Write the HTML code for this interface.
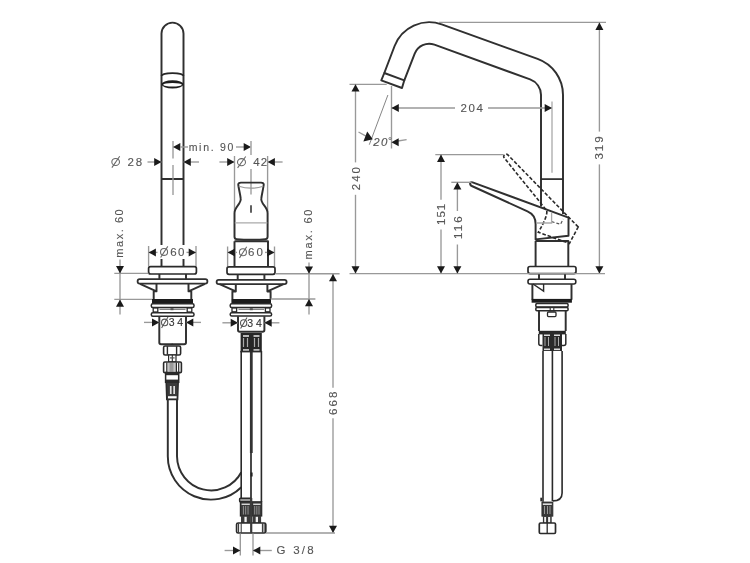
<!DOCTYPE html>
<html><head><meta charset="utf-8"><style>
html,body{margin:0;padding:0;background:#fff;}
svg{display:block;font-family:"Liberation Sans",sans-serif;will-change:transform;}
</style></head><body>
<svg width="750" height="563" viewBox="0 0 750 563">
<rect width="750" height="563" fill="#fff"/>
<path d="M161.5,266.5 V33.6 A11,11 0 0 1 183.5,33.6 V266.5" stroke="#303030" stroke-width="1.95" fill="none" stroke-linejoin="round"/>
<path d="M161.5,179 H183.5" stroke="#303030" stroke-width="1.95" fill="none" stroke-linejoin="round"/>
<path d="M161.5,76 A11,2.9 0 0 1 183.5,76" stroke="#262626" stroke-width="1.8" fill="none"/>
<ellipse cx="172.5" cy="84.3" rx="11" ry="4.1" fill="#1c1c1c"/>
<ellipse cx="172.5" cy="84.75" rx="9.3" ry="1.85" fill="#fff"/>
<line x1="173" y1="141" x2="173" y2="158.5" stroke="#999" stroke-width="1.35" fill="none"/>
<line x1="173" y1="165" x2="173" y2="195" stroke="#999" stroke-width="1.35" fill="none"/>
<line x1="147.5" y1="162" x2="161.5" y2="162" stroke="#999" stroke-width="1.35" fill="none"/>
<polygon points="161.5,162.0 154.2,158.0 154.2,166.0" fill="#1a1a1a"/>
<line x1="183.5" y1="162" x2="199" y2="162" stroke="#999" stroke-width="1.35" fill="none"/>
<polygon points="183.5,162.0 190.8,158.0 190.8,166.0" fill="#1a1a1a"/>
<ellipse cx="115.65" cy="161.95" rx="3.83" ry="3.52" stroke="#666" stroke-width="1.05" fill="none"/>
<line x1="119.70" y1="156.30" x2="111.90" y2="167.60" stroke="#666" stroke-width="1.05"/>
<text x="127.5" y="166" font-size="11.5" letter-spacing="1.95" text-anchor="start" fill="#555" stroke="#555" stroke-width="0.12" >28</text>
<polygon points="173.0,147.0 180.3,143.0 180.3,151.0" fill="#1a1a1a"/>
<line x1="180" y1="147" x2="188" y2="147" stroke="#999" stroke-width="1.35" fill="none"/>
<text x="188.65" y="150.8" font-size="10.5" letter-spacing="1.72" text-anchor="start" fill="#555" stroke="#555" stroke-width="0.12" >min. 90</text>
<line x1="236" y1="147" x2="244" y2="147" stroke="#999" stroke-width="1.35" fill="none"/>
<polygon points="251.0,147.0 243.7,143.0 243.7,151.0" fill="#1a1a1a"/>
<line x1="251" y1="141" x2="251" y2="155" stroke="#999" stroke-width="1.35" fill="none"/>
<line x1="251" y1="169" x2="251" y2="194.5" stroke="#999" stroke-width="1.35" fill="none"/>
<line x1="219.4" y1="162" x2="234.5" y2="162" stroke="#999" stroke-width="1.35" fill="none"/>
<polygon points="234.5,162.0 227.2,158.0 227.2,166.0" fill="#1a1a1a"/>
<line x1="267.6" y1="162" x2="282.6" y2="162" stroke="#999" stroke-width="1.35" fill="none"/>
<polygon points="267.6,162.0 274.9,158.0 274.9,166.0" fill="#1a1a1a"/>
<ellipse cx="241.50" cy="162.20" rx="3.98" ry="3.58" stroke="#666" stroke-width="1.05" fill="none"/>
<line x1="245.70" y1="156.50" x2="237.60" y2="167.90" stroke="#666" stroke-width="1.05"/>
<text x="253.2" y="166.3" font-size="11.5" letter-spacing="1.25" text-anchor="start" fill="#555" stroke="#555" stroke-width="0.12" >42</text>
<line x1="234.5" y1="156" x2="234.5" y2="212" stroke="#999" stroke-width="1.35" fill="none"/>
<line x1="267.6" y1="156" x2="267.6" y2="212" stroke="#999" stroke-width="1.35" fill="none"/>
<line x1="148.6" y1="246" x2="148.6" y2="266.5" stroke="#999" stroke-width="1.35" fill="none"/>
<line x1="196" y1="246" x2="196" y2="266.5" stroke="#999" stroke-width="1.35" fill="none"/>
<line x1="148.6" y1="252.4" x2="158" y2="252.4" stroke="#999" stroke-width="1.35" fill="none"/>
<line x1="186" y1="252.4" x2="196" y2="252.4" stroke="#999" stroke-width="1.35" fill="none"/>
<polygon points="148.6,252.4 155.9,248.4 155.9,256.4" fill="#1a1a1a"/>
<polygon points="196.0,252.4 188.7,248.4 188.7,256.4" fill="#1a1a1a"/>
<rect x="157.5" y="245" width="29" height="14" fill="#fff"/>
<ellipse cx="164.05" cy="251.95" rx="3.52" ry="3.43" stroke="#666" stroke-width="1.05" fill="none"/>
<line x1="167.80" y1="246.40" x2="160.60" y2="257.50" stroke="#666" stroke-width="1.05"/>
<text x="170.2" y="255.9" font-size="11.5" letter-spacing="1.45" text-anchor="start" fill="#555" stroke="#555" stroke-width="0.12" >60</text>
<rect x="148.6" y="266.6" width="47.8" height="7.4" rx="2" stroke="#2a2a2a" stroke-width="1.7" fill="#fff"/>
<path d="M159.4,274 V279.2 M186,274 V279.2" stroke="#303030" stroke-width="1.95" fill="none" stroke-linejoin="round"/>
<rect x="137.6" y="279.2" width="69.8" height="4.4" rx="2.1" stroke="#303030" stroke-width="1.8" fill="#fff"/>
<path d="M140,283.8 L156.5,291.3 V283.8 M156.5,291.3 H153.7 V299" stroke="#303030" stroke-width="1.95" fill="none" stroke-linejoin="round"/>
<path d="M205,283.8 L188.5,291.3 V283.8 M188.5,291.3 H191.3 V299" stroke="#303030" stroke-width="1.95" fill="none" stroke-linejoin="round"/>
<rect x="152" y="299" width="41" height="4.6" fill="#1c1c1c"/>
<rect x="151.3" y="303.8" width="42.7" height="3.8" rx="1.5" stroke="#2a2a2a" stroke-width="1.5" fill="#fff"/>
<rect x="153.2" y="308" width="4.6" height="4" stroke="#2a2a2a" stroke-width="1.3" fill="#fff"/>
<rect x="187.2" y="308" width="4.6" height="4" stroke="#2a2a2a" stroke-width="1.3" fill="#fff"/>
<line x1="159.5" y1="309.3" x2="185.5" y2="309.3" stroke="#555" stroke-width="0.9"/>
<rect x="170.5" y="308.2" width="3" height="2" fill="#555"/>
<rect x="151.3" y="312.8" width="42.7" height="3.4" rx="1.5" stroke="#2a2a2a" stroke-width="1.5" fill="#fff"/>
<path d="M159.3,316.5 V342.5 Q159.3,344.3 161.1,344.3 H184.2 Q186,344.3 186,342.5 V316.5" stroke="#303030" stroke-width="1.95" fill="none" stroke-linejoin="round"/>
<line x1="144" y1="322.4" x2="159.3" y2="322.4" stroke="#999" stroke-width="1.35" fill="none"/>
<polygon points="159.3,322.4 152.0,318.4 152.0,326.4" fill="#1a1a1a"/>
<line x1="186" y1="322.4" x2="201" y2="322.4" stroke="#999" stroke-width="1.35" fill="none"/>
<polygon points="186.0,322.4 193.3,318.4 193.3,326.4" fill="#1a1a1a"/>
<ellipse cx="164.65" cy="322.45" rx="3.13" ry="3.32" stroke="#555" stroke-width="1.05" fill="none"/>
<line x1="168.00" y1="317.00" x2="161.60" y2="327.90" stroke="#555" stroke-width="1.05"/>
<text x="168.8" y="326.3" font-size="10.5" letter-spacing="-0.1" text-anchor="start" fill="#333" stroke="#333" stroke-width="0.12" >3 4</text>
<path d="M170.6,345 Q172.2,341.8 173.8,345 Z" fill="#2a2a2a"/>
<rect x="163.6" y="346" width="17" height="9" rx="1.5" stroke="#2a2a2a" stroke-width="1.6" fill="#fff"/>
<path d="M167.4,346.2 V354.8 M176.6,346.2 V354.8" stroke="#2a2a2a" stroke-width="1.4" fill="none"/>
<rect x="168.6" y="355" width="7.4" height="6.9" fill="#fff" stroke="#2a2a2a" stroke-width="1.2"/>
<line x1="172.3" y1="355" x2="172.3" y2="362" stroke="#2a2a2a" stroke-width="1.1"/>
<rect x="170" y="357.3" width="4.6" height="1.2" fill="#555"/>
<rect x="163.6" y="362" width="17.8" height="10.6" rx="1.2" stroke="#2a2a2a" stroke-width="1.6" fill="#fff"/>
<rect x="167.6" y="363" width="8.6" height="8.8" fill="#c4c4c4"/>
<rect x="169.5" y="363" width="4" height="8.8" fill="#9a9a9a"/>
<path d="M166.8,362.5 V372.2 M176.4,362.5 V372.2 M178.7,362.5 V372.2" stroke="#2a2a2a" stroke-width="1.2" fill="none"/>
<rect x="165.6" y="372.6" width="13.1" height="9.7" stroke="#2a2a2a" stroke-width="1.5" fill="#fff"/>
<rect x="165.6" y="372.6" width="13.1" height="2.6" fill="#2a2a2a"/>
<rect x="165.6" y="379.6" width="13.1" height="2.7" fill="#2a2a2a"/>
<path d="M166.2,382.3 H178.2 L177.6,399.5 H166.8 Z" stroke="#2a2a2a" stroke-width="1.5" fill="#3a3a3a"/>
<rect x="169.9" y="386" width="1.7" height="8" fill="#e0e0e0"/>
<rect x="173.3" y="386" width="1.7" height="8" fill="#e0e0e0"/>
<rect x="168" y="396.2" width="8.6" height="2.2" fill="#fff"/>
<path d="M167.8,399 V456.3 A43.2,43.2 0 0 0 241.3,487.2" stroke="#303030" stroke-width="1.95" fill="none" stroke-linejoin="round"/>
<path d="M177,399 V456.3 A34.2,34.5 0 0 0 241.3,472.3" stroke="#303030" stroke-width="1.95" fill="none" stroke-linejoin="round"/>
<path d="M241,182.6 H261 Q264,182.6 263.7,185 C263,190 261.6,195 261.3,198.7 C261.1,200 261.5,201.5 262.8,203.5 C264.5,206 267.6,209 267.6,213 V236.8 Q267.6,239 265.4,239.2 Q251,240.4 236.6,239.2 Q234.5,239 234.5,236.8 V213 C234.5,209 237.5,206 239.2,203.5 C240.5,201.5 240.9,200 240.7,198.7 C240.4,195 239,190 238.3,185 Q238,182.6 241,182.6 Z" stroke="#303030" stroke-width="1.95" fill="none" stroke-linejoin="round"/>
<path d="M238.8,186.2 Q251,190.2 263.2,186.2" stroke="#999" stroke-width="1.2" fill="none"/>
<line x1="234.8" y1="222.8" x2="267.3" y2="222.8" stroke="#aaa" stroke-width="1.3"/>
<line x1="251" y1="205.2" x2="251" y2="212.7" stroke="#2a2a2a" stroke-width="1.5"/>
<path d="M234.5,241.3 H268 V266.8 M234.5,241.3 V266.8" stroke="#303030" stroke-width="1.95" fill="none" stroke-linejoin="round"/>
<line x1="227.6" y1="246.5" x2="227.6" y2="266.8" stroke="#999" stroke-width="1.35" fill="none"/>
<line x1="274.5" y1="246.5" x2="274.5" y2="266.8" stroke="#999" stroke-width="1.35" fill="none"/>
<line x1="227.6" y1="252.4" x2="237" y2="252.4" stroke="#999" stroke-width="1.35" fill="none"/>
<line x1="265" y1="252.4" x2="274.5" y2="252.4" stroke="#999" stroke-width="1.35" fill="none"/>
<polygon points="227.6,252.4 234.9,248.4 234.9,256.4" fill="#1a1a1a"/>
<polygon points="274.5,252.4 267.2,248.4 267.2,256.4" fill="#1a1a1a"/>
<ellipse cx="242.95" cy="252.30" rx="3.52" ry="3.48" stroke="#666" stroke-width="1.05" fill="none"/>
<line x1="246.70" y1="246.70" x2="239.50" y2="257.90" stroke="#666" stroke-width="1.05"/>
<text x="248" y="256.3" font-size="11.5" letter-spacing="2.0" text-anchor="start" fill="#555" stroke="#555" stroke-width="0.12" >60</text>
<rect x="227" y="266.8" width="48" height="7.5" rx="2" stroke="#2a2a2a" stroke-width="1.7" fill="#fff"/>
<path d="M237.7,274.3 V279.6 M264.4,274.3 V279.6" stroke="#303030" stroke-width="1.95" fill="none" stroke-linejoin="round"/>
<rect x="216.6" y="279.8" width="70" height="4.3" rx="2.1" stroke="#303030" stroke-width="1.8" fill="#fff"/>
<path d="M219.5,284.2 L235.8,291.4 V284.2 M235.8,291.4 H232.4 V299" stroke="#303030" stroke-width="1.95" fill="none" stroke-linejoin="round"/>
<path d="M283.6,284.2 L267.4,291.4 V284.2 M267.4,291.4 H270.6 V299" stroke="#303030" stroke-width="1.95" fill="none" stroke-linejoin="round"/>
<rect x="231.4" y="299" width="39.6" height="4.3" fill="#1c1c1c"/>
<rect x="230.2" y="303.8" width="41.4" height="3.6" rx="1.5" stroke="#2a2a2a" stroke-width="1.5" fill="#fff"/>
<rect x="232" y="308" width="4.6" height="3.8" stroke="#2a2a2a" stroke-width="1.3" fill="#fff"/>
<rect x="265.4" y="308" width="4.6" height="3.8" stroke="#2a2a2a" stroke-width="1.3" fill="#fff"/>
<line x1="238.5" y1="309.3" x2="264" y2="309.3" stroke="#555" stroke-width="0.9"/>
<rect x="249.8" y="308.2" width="3" height="2" fill="#555"/>
<rect x="230.2" y="312.8" width="41.4" height="3.2" rx="1.5" stroke="#2a2a2a" stroke-width="1.5" fill="#fff"/>
<path d="M238,316.3 V330 Q238,331.8 239.8,331.8 H262.6 Q264.4,331.8 264.4,330 V316.3" stroke="#303030" stroke-width="1.95" fill="none" stroke-linejoin="round"/>
<line x1="222.4" y1="322.8" x2="238" y2="322.8" stroke="#999" stroke-width="1.35" fill="none"/>
<polygon points="238.0,322.8 230.7,318.8 230.7,326.8" fill="#1a1a1a"/>
<line x1="264.4" y1="322.8" x2="279.4" y2="322.8" stroke="#999" stroke-width="1.35" fill="none"/>
<polygon points="264.4,322.8 271.7,318.8 271.7,326.8" fill="#1a1a1a"/>
<ellipse cx="243.65" cy="323.10" rx="3.13" ry="3.38" stroke="#555" stroke-width="1.05" fill="none"/>
<line x1="247.00" y1="317.60" x2="240.60" y2="328.60" stroke="#555" stroke-width="1.05"/>
<text x="247.2" y="326.7" font-size="10.5" letter-spacing="0.0" text-anchor="start" fill="#333" stroke="#333" stroke-width="0.12" >3 4</text>
<rect x="240.6" y="333" width="21.2" height="18.4" fill="#262626"/>
<rect x="242.9" y="338" width="1.2" height="9" fill="#aaa"/>
<rect x="246.9" y="338" width="1.2" height="9" fill="#aaa"/>
<rect x="253.9" y="338" width="1.2" height="9" fill="#aaa"/>
<rect x="257.9" y="338" width="1.2" height="9" fill="#aaa"/>
<rect x="243" y="335.2" width="6" height="1.6" fill="#ddd"/>
<rect x="253.5" y="335.2" width="6" height="1.6" fill="#ddd"/>
<rect x="243" y="349.2" width="6" height="1.6" fill="#ddd"/>
<rect x="253.5" y="349.2" width="6" height="1.6" fill="#ddd"/>
<path d="M241.2,351 V498 M261.4,351 V502" stroke="#2a2a2a" stroke-width="1.6" fill="none"/>
<line x1="251.3" y1="351" x2="251.3" y2="453" stroke="#333" stroke-width="2.8"/>
<line x1="251" y1="453" x2="251" y2="498" stroke="#2a2a2a" stroke-width="1.7"/>
<rect x="250.6" y="472.5" width="2" height="4" fill="#222"/>
<line x1="240.4" y1="351.6" x2="262" y2="351.6" stroke="#2a2a2a" stroke-width="1.6"/>
<rect x="239.6" y="498.3" width="11.6" height="3.5" rx="0.8" stroke="#2a2a2a" stroke-width="1.4" fill="#999"/>
<rect x="240.4" y="501.8" width="10.6" height="14.2" fill="#3a3a3a" stroke="#2a2a2a" stroke-width="1.2"/>
<rect x="241.6" y="503.6" width="8.2" height="1.3" fill="#e8e8e8"/>
<rect x="242.92" y="506" width="0.9" height="8.5" fill="#9a9a9a"/>
<rect x="245.25" y="506" width="0.9" height="8.5" fill="#9a9a9a"/>
<rect x="247.58" y="506" width="0.9" height="8.5" fill="#9a9a9a"/>
<rect x="241.0" y="516" width="9.4" height="7" fill="#3a3a3a"/>
<rect x="244.43" y="516.8" width="2.3" height="5.6" fill="#f0f0f0"/>
<rect x="252" y="501.8" width="9.7" height="14.2" fill="#3a3a3a" stroke="#2a2a2a" stroke-width="1.2"/>
<rect x="253.2" y="503.6" width="7.3" height="1.3" fill="#e8e8e8"/>
<rect x="254.27" y="506" width="0.9" height="8.5" fill="#9a9a9a"/>
<rect x="256.40" y="506" width="0.9" height="8.5" fill="#9a9a9a"/>
<rect x="258.53" y="506" width="0.9" height="8.5" fill="#9a9a9a"/>
<rect x="252.6" y="516" width="8.5" height="7" fill="#3a3a3a"/>
<rect x="255.69" y="516.8" width="2.3" height="5.6" fill="#f0f0f0"/>
<rect x="236.6" y="523" width="29.2" height="10" rx="1.6" stroke="#2a2a2a" stroke-width="1.7" fill="#fff"/>
<path d="M238.6,523.4 V532.6 M241.2,523.4 V532.6 M262.4,523.4 V532.6 M264.1,523.4 V532.6" stroke="#2a2a2a" stroke-width="1.0" fill="none"/>
<line x1="251.2" y1="498" x2="251.2" y2="533" stroke="#3a3a3a" stroke-width="2.2"/>
<line x1="114.3" y1="273.4" x2="148.5" y2="273.4" stroke="#999" stroke-width="1.35" fill="none"/>
<line x1="114.3" y1="299.4" x2="152" y2="299.4" stroke="#999" stroke-width="1.35" fill="none"/>
<line x1="120" y1="259.5" x2="120" y2="314.6" stroke="#999" stroke-width="1.35" fill="none"/>
<polygon points="120.0,273.4 116.0,266.1 124.0,266.1" fill="#1a1a1a"/>
<polygon points="120.0,299.4 116.0,306.7 124.0,306.7" fill="#1a1a1a"/>
<text x="122.8" y="257.75" font-size="11" letter-spacing="1.55" text-anchor="start" fill="#555" stroke="#555" stroke-width="0.12" transform="rotate(-90 122.8 257.75)" >max. 60</text>
<line x1="275.7" y1="273.7" x2="339.6" y2="273.7" stroke="#999" stroke-width="1.35" fill="none"/>
<line x1="270.7" y1="299" x2="315.4" y2="299" stroke="#999" stroke-width="1.35" fill="none"/>
<line x1="309" y1="262.5" x2="309" y2="314.6" stroke="#999" stroke-width="1.35" fill="none"/>
<polygon points="309.0,273.7 305.0,266.4 313.0,266.4" fill="#1a1a1a"/>
<polygon points="309.0,299.0 305.0,306.3 313.0,306.3" fill="#1a1a1a"/>
<text x="312.3" y="259.5" font-size="11" letter-spacing="1.8" text-anchor="start" fill="#555" stroke="#555" stroke-width="0.12" transform="rotate(-90 312.3 259.5)" >max. 60</text>
<line x1="333" y1="274" x2="333" y2="387.7" stroke="#999" stroke-width="1.35" fill="none"/>
<line x1="333" y1="418.2" x2="333" y2="533" stroke="#999" stroke-width="1.35" fill="none"/>
<polygon points="333.0,274.0 329.0,281.3 337.0,281.3" fill="#1a1a1a"/>
<polygon points="333.0,533.0 329.0,525.7 337.0,525.7" fill="#1a1a1a"/>
<line x1="266" y1="533" x2="335" y2="533" stroke="#999" stroke-width="1.35" fill="none"/>
<text x="337.4" y="415.1" font-size="11.5" letter-spacing="2.2" text-anchor="start" fill="#555" stroke="#555" stroke-width="0.12" transform="rotate(-90 337.4 415.1)" >668</text>
<line x1="240.3" y1="533.5" x2="240.3" y2="555.6" stroke="#999" stroke-width="1.35" fill="none"/>
<line x1="253" y1="533.5" x2="253" y2="555.6" stroke="#999" stroke-width="1.35" fill="none"/>
<line x1="224.6" y1="550.5" x2="240.3" y2="550.5" stroke="#999" stroke-width="1.35" fill="none"/>
<polygon points="240.3,550.5 233.0,546.5 233.0,554.5" fill="#1a1a1a"/>
<line x1="253" y1="550.5" x2="271.8" y2="550.5" stroke="#999" stroke-width="1.35" fill="none"/>
<polygon points="253.0,550.5 260.3,546.5 260.3,554.5" fill="#1a1a1a"/>
<text x="276.5" y="554" font-size="11.5" letter-spacing="2.26" text-anchor="start" fill="#555" stroke="#555" stroke-width="0.12" >G 3/8</text>
<path d="M384.3,73 L394.6,46 A37,37 0 0 1 441.7,24.4 L537.6,58.9 A38.4,38.4 0 0 1 563,95 V214" stroke="#303030" stroke-width="1.95" fill="none" stroke-linejoin="round"/>
<path d="M404.3,80.3 L414.7,53.7 A15.5,15.5 0 0 1 434.4,44.7 L530.1,79.4 A16.4,16.4 0 0 1 541,95 V206.5" stroke="#303030" stroke-width="1.95" fill="none" stroke-linejoin="round"/>
<path d="M384.3,73 L381.3,80.3 L402,88 L404.3,80.3 Z" stroke="#303030" stroke-width="1.95" fill="none" stroke-linejoin="round"/>
<line x1="541" y1="179.1" x2="563" y2="179.1" stroke="#2a2a2a" stroke-width="1.7"/>
<path d="M568.5,217.6 L472.6,182.4 Q469.6,181.8 470.2,184.4 Q470.6,185.6 471.8,186 L527.5,211.4 C532.5,213.6 535.6,217.5 535.6,224 V239.4 L568.5,235.8 Z" stroke="#303030" stroke-width="1.95" fill="none" stroke-linejoin="round"/>
<path d="M535.6,241 H568.3 V266.5 M535.6,241 V266.5" stroke="#303030" stroke-width="1.95" fill="none" stroke-linejoin="round"/>
<rect x="528" y="266.5" width="48" height="7.1" rx="2" stroke="#2a2a2a" stroke-width="1.7" fill="#fff"/>
<path d="M539,273.6 V279.3 M565,273.6 V279.3" stroke="#303030" stroke-width="1.95" fill="none" stroke-linejoin="round"/>
<rect x="528" y="279.3" width="47.8" height="4.7" rx="2" stroke="#2a2a2a" stroke-width="1.6" fill="#fff"/>
<path d="M532.4,284 V299.7 M571.5,284 V299.7" stroke="#303030" stroke-width="1.95" fill="none" stroke-linejoin="round"/>
<path d="M533,284 L543.6,291.2 V284" stroke="#2a2a2a" stroke-width="1.4" fill="none"/>
<rect x="531.6" y="298.9" width="40.3" height="3.8" fill="#1c1c1c"/>
<rect x="535.8" y="303.6" width="32.3" height="3.3" rx="1.2" stroke="#2a2a2a" stroke-width="1.5" fill="#fff"/>
<rect x="535.8" y="307.5" width="32.3" height="3.3" rx="1.2" stroke="#2a2a2a" stroke-width="1.5" fill="#fff"/>
<rect x="550.2" y="307.6" width="3.6" height="3" fill="#fff" stroke="#2a2a2a" stroke-width="1.1"/>
<rect x="547.5" y="312" width="8.5" height="4.6" rx="1" stroke="#2a2a2a" stroke-width="1.3" fill="#fff"/>
<path d="M539,311 V331 M565.7,311 V331" stroke="#303030" stroke-width="1.95" fill="none" stroke-linejoin="round"/>
<rect x="538.8" y="330.8" width="27" height="3.6" fill="#262626"/>
<path d="M538.8,334 V343.5 Q538.8,345.5 540.8,345.5 H542.4 M565.8,334 V343.5 Q565.8,345.5 563.8,345.5 H562" stroke="#2a2a2a" stroke-width="1.5" fill="none"/>
<rect x="542.5" y="332" width="19.5" height="19" fill="#2a2a2a"/>
<rect x="544.5" y="337" width="1" height="9" fill="#aaa"/>
<rect x="548.0" y="337" width="1" height="9" fill="#aaa"/>
<rect x="554.5" y="337" width="1" height="9" fill="#aaa"/>
<rect x="558.0" y="337" width="1" height="9" fill="#aaa"/>
<rect x="544" y="334.5" width="6" height="1.5" fill="#ddd"/>
<rect x="554" y="334.5" width="6" height="1.5" fill="#ddd"/>
<rect x="544" y="348.5" width="6" height="1.6" fill="#ddd"/>
<rect x="554" y="348.5" width="6" height="1.6" fill="#ddd"/>
<path d="M543,351 V501.7 M552.4,351 V501" stroke="#2a2a2a" stroke-width="1.6" fill="none"/>
<path d="M562.1,351 V493 Q562.1,500.9 552.8,500.9" stroke="#2a2a2a" stroke-width="1.6" fill="none"/>
<rect x="540.3" y="497.7" width="1.8" height="3.6" fill="#2a2a2a"/>
<rect x="541.9" y="502" width="11" height="14.2" fill="#3a3a3a" stroke="#2a2a2a" stroke-width="0.8"/>
<rect x="542.8" y="503.4" width="9" height="1.6" fill="#ddd"/>
<rect x="544.0" y="506" width="1" height="8" fill="#999"/>
<rect x="547.0" y="506" width="1" height="8" fill="#999"/>
<rect x="549.5" y="506" width="1" height="8" fill="#999"/>
<rect x="542.9" y="516.2" width="8.8" height="7" fill="#333"/>
<rect x="544.2" y="517" width="1.9" height="5.6" fill="#f2f2f2"/>
<rect x="548.1" y="517" width="2.1" height="5.6" fill="#f2f2f2"/>
<rect x="539.3" y="523" width="16.2" height="10.5" rx="1.2" stroke="#2a2a2a" stroke-width="1.7" fill="#fff"/>
<line x1="547.2" y1="523" x2="547.2" y2="533.5" stroke="#2a2a2a" stroke-width="1.3"/>
<path d="M578.2,227 L507.6,154.6 A2.4,2.4 0 0 0 504,157.6 L546.7,210.5 Q548,216 538.3,232.3 L569.4,243.4 Z" stroke="#2a2a2a" stroke-width="1.6" fill="none" stroke-dasharray="3.6,1.9"/>
<path d="M551.6,221.6 L560.5,224.3 L563.2,219" stroke="#555" stroke-width="1.2" fill="none" stroke-dasharray="3,2"/>
<path d="M551.6,212.7 V223 H536.5" stroke="#aaa" stroke-width="1.3" fill="none"/>
<line x1="439" y1="22.4" x2="606" y2="22.4" stroke="#999" stroke-width="1.35" fill="none"/>
<line x1="599.4" y1="23" x2="599.4" y2="131.6" stroke="#999" stroke-width="1.35" fill="none"/>
<line x1="599.4" y1="164.4" x2="599.4" y2="273.6" stroke="#999" stroke-width="1.35" fill="none"/>
<polygon points="599.4,22.6 595.4,29.9 603.4,29.9" fill="#1a1a1a"/>
<polygon points="599.4,273.6 595.4,266.3 603.4,266.3" fill="#1a1a1a"/>
<text x="603.3" y="159.6" font-size="11.5" letter-spacing="2.0" text-anchor="start" fill="#555" stroke="#555" stroke-width="0.12" transform="rotate(-90 603.3 159.6)" >319</text>
<line x1="349.5" y1="273.6" x2="605" y2="273.6" stroke="#999" stroke-width="1.35" fill="none"/>
<line x1="349.5" y1="84.3" x2="386.7" y2="84.3" stroke="#999" stroke-width="1.35" fill="none"/>
<line x1="355.5" y1="84.3" x2="355.5" y2="162.4" stroke="#999" stroke-width="1.35" fill="none"/>
<line x1="355.5" y1="194.8" x2="355.5" y2="273.6" stroke="#999" stroke-width="1.35" fill="none"/>
<polygon points="355.5,84.3 351.5,91.6 359.5,91.6" fill="#1a1a1a"/>
<polygon points="355.5,273.6 351.5,266.3 359.5,266.3" fill="#1a1a1a"/>
<text x="359.7" y="190.3" font-size="11.5" letter-spacing="2.05" text-anchor="start" fill="#555" stroke="#555" stroke-width="0.12" transform="rotate(-90 359.7 190.3)" >240</text>
<line x1="435.3" y1="154.6" x2="503.6" y2="154.6" stroke="#999" stroke-width="1.35" fill="none"/>
<line x1="441" y1="154.6" x2="441" y2="199.8" stroke="#999" stroke-width="1.35" fill="none"/>
<line x1="441" y1="229.6" x2="441" y2="273.6" stroke="#999" stroke-width="1.35" fill="none"/>
<polygon points="441.0,154.6 437.0,161.9 445.0,161.9" fill="#1a1a1a"/>
<polygon points="441.0,273.6 437.0,266.3 445.0,266.3" fill="#1a1a1a"/>
<text x="444.9" y="224.9" font-size="11.5" letter-spacing="0.93" text-anchor="start" fill="#555" stroke="#555" stroke-width="0.12" transform="rotate(-90 444.9 224.9)" >151</text>
<line x1="451.3" y1="182.3" x2="471.6" y2="182.3" stroke="#999" stroke-width="1.35" fill="none"/>
<line x1="457.4" y1="182.3" x2="457.4" y2="211" stroke="#999" stroke-width="1.35" fill="none"/>
<line x1="457.4" y1="244.5" x2="457.4" y2="273.6" stroke="#999" stroke-width="1.35" fill="none"/>
<polygon points="457.4,182.3 453.4,189.6 461.4,189.6" fill="#1a1a1a"/>
<polygon points="457.4,273.6 453.4,266.3 461.4,266.3" fill="#1a1a1a"/>
<text x="461.5" y="239" font-size="11.5" letter-spacing="2.1" text-anchor="start" fill="#555" stroke="#555" stroke-width="0.12" transform="rotate(-90 461.5 239)" >116</text>
<line x1="391.5" y1="86" x2="391.5" y2="148.5" stroke="#999" stroke-width="1.35" fill="none"/>
<line x1="391.5" y1="108" x2="455" y2="108" stroke="#999" stroke-width="1.35" fill="none"/>
<polygon points="391.5,108.0 398.8,104.0 398.8,112.0" fill="#1a1a1a"/>
<line x1="488" y1="108" x2="552" y2="108" stroke="#999" stroke-width="1.35" fill="none"/>
<polygon points="552.0,108.0 544.7,104.0 544.7,112.0" fill="#1a1a1a"/>
<text x="460.5" y="112" font-size="11.5" letter-spacing="1.6" text-anchor="start" fill="#555" stroke="#555" stroke-width="0.12" >204</text>
<line x1="552" y1="101.4" x2="552" y2="172.7" stroke="#999" stroke-width="1.1"/>
<line x1="387.9" y1="95" x2="369.3" y2="144.7" stroke="#777" stroke-width="0.9"/>
<line x1="358.5" y1="132" x2="366" y2="136.2" stroke="#999" stroke-width="1.35" fill="none"/>
<polygon points="372.8,139.2 363.4,141.6 367.2,131.6" fill="#1a1a1a"/>
<line x1="398" y1="141" x2="406.6" y2="139.7" stroke="#999" stroke-width="1.35" fill="none"/>
<polygon points="391.4,142.2 398.7,138.2 398.7,146.2" fill="#1a1a1a"/>
<text x="373.3" y="146" font-size="11.5" letter-spacing="1.25" text-anchor="start" fill="#555" stroke="#555" stroke-width="0.12" font-style="italic">20</text>
<circle cx="390" cy="138.6" r="1.1" stroke="#666" stroke-width="0.8" fill="none"/>
</svg></body></html>
